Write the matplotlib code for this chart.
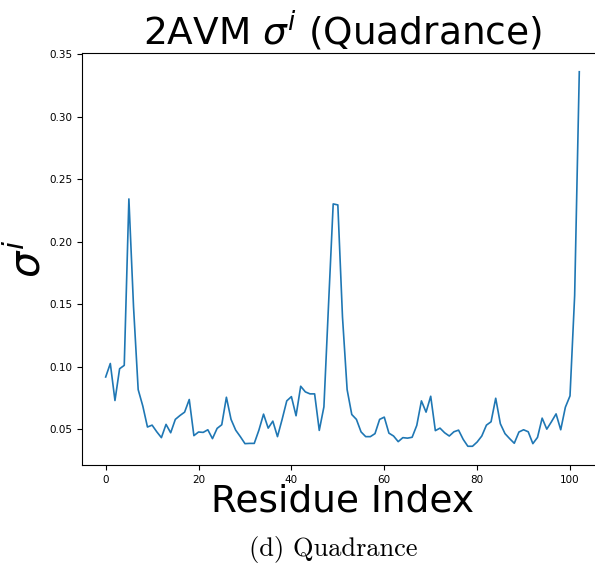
import numpy as np
import matplotlib
matplotlib.use("Agg")
import matplotlib.pyplot as plt

# per-residue sigma^i (quadrance) for 2AVM
residue_index = np.arange(103)
sigma_i = [
    0.0919, 0.1027, 0.0731, 0.0985, 0.1012, 0.2343, 0.148, 0.0818, 0.0686, 0.0519,
    0.0534, 0.0481, 0.0434, 0.0540, 0.0473, 0.0580, 0.0611, 0.0638, 0.0739, 0.0450,
    0.0479, 0.0476, 0.0497, 0.0426, 0.0508, 0.0537, 0.0757, 0.0580, 0.0494, 0.0442,
    0.0386, 0.0388, 0.0388, 0.0494, 0.0622, 0.0510, 0.0566, 0.0442, 0.0580, 0.0728,
    0.0762, 0.0609, 0.0845, 0.0800, 0.0784, 0.0784, 0.0492, 0.0680, 0.150, 0.2303,
    0.2295, 0.140, 0.0818, 0.0619, 0.0580, 0.0480, 0.0442, 0.0442, 0.0466, 0.0580,
    0.0598, 0.0470, 0.0447, 0.0402, 0.0434, 0.0430, 0.0437, 0.0532, 0.0728, 0.0638,
    0.0765, 0.0490, 0.0510, 0.0473, 0.0447, 0.0481, 0.0494, 0.0420, 0.0365, 0.0365,
    0.0399, 0.0447, 0.0534, 0.0561, 0.0749, 0.0545, 0.0466, 0.0426, 0.0389, 0.0479,
    0.0497, 0.0481, 0.0386, 0.0436, 0.0590, 0.0502, 0.0561, 0.0624, 0.0497, 0.0677,
    0.0768, 0.157, 0.336,
]

fig = plt.figure(figsize=(5.95, 5.67), dpi=100)
# axes run past the right edge, as in the cropped original
ax = fig.add_axes([0.1378, 0.1799, 0.8756, 0.7266])
ax.spines['right'].set_visible(False)

ax.plot(residue_index, sigma_i, color='#1f77b4', linewidth=1.2)

ax.set_title(r'2AVM $\sigma^i$ (Quadrance)', fontsize=27)
ax.set_xlabel('Residue Index', fontsize=27, labelpad=-1)
ax.set_ylabel(r'$\sigma^i$', fontsize=30)
ax.yaxis.set_label_coords(-0.062, 0.5)
ax.tick_params(labelsize=7.5)

fig.text(0.56, 0.03, '(d) Quadrance', fontsize=19, fontfamily='cmr10',
         ha='center', va='center')

fig.savefig('out.png', dpi=100)
